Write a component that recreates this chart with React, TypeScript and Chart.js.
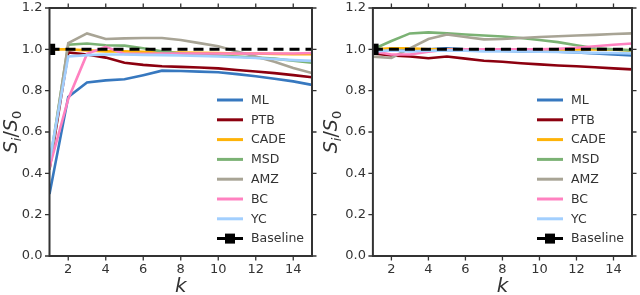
import React, { useEffect, useRef } from 'react';
import { Chart, registerables } from 'chart.js';

Chart.register(...registerables);

const kValues = [1, 2, 3, 4, 5, 6, 7, 8, 9, 10, 11, 12, 13, 14, 15];
const seriesNames = ['ML', 'PTB', 'CADE', 'MSD', 'AMZ', 'BC', 'YC'];
const seriesColors = ['#3778bf', '#8c000f', '#feb308', '#7bb274', '#a8a495', '#ff81c0', '#a2cffe'];
const baselineName = 'Baseline';
const baselineValues = [1, 1, 1, 1, 1, 1, 1, 1, 1, 1, 1, 1, 1, 1, 1];
const yTicks = [0, 0.2, 0.4, 0.6, 0.8, 1.0, 1.2];
const xTicks = [2, 4, 6, 8, 10, 12, 14];

// Left panel
const leftML = [0.30, 0.77, 0.84, 0.85, 0.855, 0.875, 0.897, 0.895, 0.892, 0.889, 0.88, 0.87, 0.858, 0.845, 0.828];
const leftPTB = [0.42, 0.985, 0.975, 0.96, 0.935, 0.925, 0.918, 0.915, 0.912, 0.908, 0.9, 0.893, 0.885, 0.875, 0.865];
const leftCADE = [1.0, 1.0, 0.995, 0.99, 0.99, 0.988, 0.985, 0.985, 0.983, 0.982, 0.98, 0.98, 0.978, 0.977, 0.976];
const leftMSD = [0.44, 1.022, 1.028, 1.02, 1.018, 1.005, 0.99, 0.98, 0.975, 0.97, 0.965, 0.96, 0.955, 0.945, 0.935];
const leftAMZ = [0.42, 1.03, 1.077, 1.05, 1.053, 1.055, 1.055, 1.045, 1.03, 1.015, 0.99, 0.965, 0.94, 0.91, 0.885];
const leftBC = [0.43, 0.76, 0.978, 1.012, 0.978, 0.978, 0.98, 0.98, 0.98, 0.98, 0.98, 0.98, 0.98, 0.98, 0.982];
const leftYC = [0.46, 0.965, 0.972, 0.975, 0.975, 0.973, 0.972, 0.97, 0.968, 0.965, 0.962, 0.958, 0.953, 0.948, 0.944];

// Right panel
const rightML = [0.99, 0.995, 1.0, 1.0, 1.005, 1.0, 0.995, 0.993, 0.99, 0.99, 0.988, 0.985, 0.98, 0.975, 0.97];
const rightPTB = [0.98, 0.97, 0.965, 0.957, 0.965, 0.955, 0.945, 0.94, 0.933, 0.927, 0.922, 0.918, 0.913, 0.908, 0.903];
const rightCADE = [1.0, 1.005, 1.005, 1.0, 1.0, 1.0, 1.0, 1.0, 1.0, 1.0, 1.0, 1.0, 1.0, 0.998, 0.995];
const rightMSD = [1.0, 1.04, 1.077, 1.082, 1.077, 1.072, 1.067, 1.062, 1.055, 1.045, 1.035, 1.02, 1.005, 1.0, 0.995];
const rightAMZ = [0.965, 0.958, 1.005, 1.05, 1.072, 1.06, 1.048, 1.05, 1.055, 1.06, 1.063, 1.067, 1.07, 1.074, 1.077];
const rightBC = [0.99, 0.975, 0.975, 0.988, 0.998, 1.0, 1.0, 1.0, 1.0, 1.0, 1.003, 1.008, 1.015, 1.022, 1.028];
const rightYC = [0.99, 0.995, 0.99, 0.993, 0.995, 0.993, 0.99, 0.99, 0.99, 0.988, 0.987, 0.985, 0.983, 0.982, 0.98];

const leftSeries = [leftML, leftPTB, leftCADE, leftMSD, leftAMZ, leftBC, leftYC];
const rightSeries = [rightML, rightPTB, rightCADE, rightMSD, rightAMZ, rightBC, rightYC];

const TEXT = '#333333';
const FONT = '"DejaVu Sans", sans-serif';

function drawYLabel(ctx: CanvasRenderingContext2D, cx: number, cy: number) {
  ctx.save();
  ctx.translate(cx, cy);
  ctx.rotate(-Math.PI / 2);
  ctx.fillStyle = TEXT;
  ctx.textBaseline = 'alphabetic';
  const big = 19;
  const sm = 13;
  const parts = [
    { t: 'S', f: `italic ${big}px ${FONT}`, dy: 0 },
    { t: 'i', f: `italic ${sm}px ${FONT}`, dy: 4 },
    { t: '/', f: `${big}px ${FONT}`, dy: 0 },
    { t: 'S', f: `italic ${big}px ${FONT}`, dy: 0 },
    { t: '0', f: `${sm}px ${FONT}`, dy: 4 },
  ];
  let total = 0;
  const widths = parts.map((p) => {
    ctx.font = p.f;
    const w = ctx.measureText(p.t).width;
    total += w;
    return w;
  });
  let x = -total / 2;
  parts.forEach((p, i) => {
    ctx.font = p.f;
    ctx.fillText(p.t, x, 6 + p.dy);
    x += widths[i];
  });
  ctx.restore();
}

const decorPlugin = {
  id: 'decor',
  afterDraw(chart: any) {
    const { ctx, chartArea: ca, scales } = chart;
    ctx.save();
    // frame
    ctx.strokeStyle = '#333333';
    ctx.lineWidth = 2;
    ctx.strokeRect(ca.left, ca.top, ca.right - ca.left, ca.bottom - ca.top);
    // ticks all around, outward
    ctx.lineWidth = 1.3;
    const tl = 4.5;
    ctx.beginPath();
    for (const v of xTicks) {
      const x = scales.x.getPixelForValue(v);
      ctx.moveTo(x, ca.bottom);
      ctx.lineTo(x, ca.bottom + tl);
      ctx.moveTo(x, ca.top);
      ctx.lineTo(x, ca.top - tl);
    }
    for (const v of yTicks) {
      const y = scales.y.getPixelForValue(v);
      ctx.moveTo(ca.left, y);
      ctx.lineTo(ca.left - tl, y);
      ctx.moveTo(ca.right, y);
      ctx.lineTo(ca.right + tl, y);
    }
    ctx.stroke();

    // legend
    const lx = ca.right - 95;
    const ly0 = ca.top + 92;
    const step = 19.8;
    const ds = chart.data.datasets;
    ctx.font = `12.5px ${FONT}`;
    ctx.textBaseline = 'middle';
    ctx.textAlign = 'left';
    ds.forEach((d: any, i: number) => {
      const y = ly0 + i * step;
      ctx.save();
      if (d.label === baselineName) {
        ctx.strokeStyle = '#000';
        ctx.lineWidth = 3;
        ctx.setLineDash([10, 6]);
        ctx.beginPath();
        ctx.moveTo(lx, y);
        ctx.lineTo(lx + 26, y);
        ctx.stroke();
        ctx.setLineDash([]);
        ctx.fillStyle = '#000';
        ctx.fillRect(lx + 8, y - 5, 10, 10);
      } else {
        ctx.strokeStyle = d.borderColor;
        ctx.lineWidth = 3;
        ctx.beginPath();
        ctx.moveTo(lx, y);
        ctx.lineTo(lx + 26, y);
        ctx.stroke();
      }
      ctx.restore();
      ctx.fillStyle = TEXT;
      ctx.fillText(d.label, lx + 34, y + 0.5);
    });

    // axis labels
    drawYLabel(ctx, 11, (ca.top + ca.bottom) / 2);
    ctx.fillStyle = TEXT;
    ctx.font = `italic 20px ${FONT}`;
    ctx.textAlign = 'center';
    ctx.textBaseline = 'alphabetic';
    ctx.fillText('k', (ca.left + ca.right) / 2, 292);
    ctx.restore();
  },
};

function Panel({ series, yWidth, rightPad }: { series: number[][]; yWidth: number; rightPad: number }) {
  const ref = useRef<HTMLCanvasElement | null>(null);
  useEffect(() => {
    if (!ref.current) return;
    const n = seriesNames.length;
    const datasets: any[] = seriesNames.map((name, i) => ({
      label: name,
      data: kValues.map((k, j) => ({ x: k, y: series[i][j] })),
      borderColor: seriesColors[i],
      backgroundColor: seriesColors[i],
      borderWidth: 2.6,
      pointRadius: 0,
      tension: 0,
      order: n + 1 - i,
    }));
    datasets.push({
      label: baselineName,
      data: kValues.map((k, j) => ({ x: k, y: baselineValues[j] })),
      borderColor: '#000000',
      backgroundColor: '#000000',
      borderWidth: 3,
      borderDash: [10, 6],
      pointStyle: 'rect',
      pointRadius: kValues.map((_, j) => (j === 0 ? 8 : 0)),
      pointBorderWidth: 0,
      pointBackgroundColor: '#000000',
      clip: 0,
      order: 0,
    });
    const chart = new Chart(ref.current, {
      type: 'line',
      data: { datasets },
      options: {
        animation: false,
        responsive: false,
        maintainAspectRatio: false,
        layout: { padding: { top: 6, right: rightPad, left: 0, bottom: 0 } },
        plugins: { legend: { display: false }, tooltip: { enabled: false } },
        elements: { line: { borderCapStyle: 'butt' } },
        scales: {
          x: {
            type: 'linear',
            min: 1,
            max: 15,
            afterBuildTicks: (s: any) => {
              s.ticks = xTicks.map((v) => ({ value: v }));
            },
            afterFit: (s: any) => {
              s.height = 39;
              s.paddingLeft = 0;
              s.paddingRight = 0;
            },
            ticks: {
              padding: 6,
              color: TEXT,
              font: { family: FONT, size: 13 },
              maxRotation: 0,
              autoSkip: false,
              callback: (v: any) => String(v),
            },
            grid: { display: false, drawTicks: false },
            border: { display: false },
          },
          y: {
            type: 'linear',
            min: 0,
            max: 1.2,
            afterBuildTicks: (s: any) => {
              s.ticks = yTicks.map((v) => ({ value: v }));
            },
            afterFit: (s: any) => {
              s.width = yWidth;
              s.paddingTop = 0;
              s.paddingBottom = 0;
            },
            ticks: {
              padding: 7,
              color: TEXT,
              font: { family: FONT, size: 13 },
              autoSkip: false,
              callback: (v: any) => Number(v).toFixed(1),
            },
            grid: { display: false, drawTicks: false },
            border: { display: false },
          },
        },
      },
      plugins: [decorPlugin],
    } as any);
    return () => chart.destroy();
  }, []);
  return <canvas ref={ref} width={320} height={295} style={{ display: 'block', width: 320, height: 295 }} />;
}

export default function App() {
  return (
    <div style={{ position: 'absolute', left: 0, top: 0, width: 640, height: 295, display: 'flex', background: '#fff' }}>
      <Panel series={leftSeries} yWidth={49.5} rightPad={7} />
      <Panel series={rightSeries} yWidth={52.9} rightPad={4} />
    </div>
  );
}
